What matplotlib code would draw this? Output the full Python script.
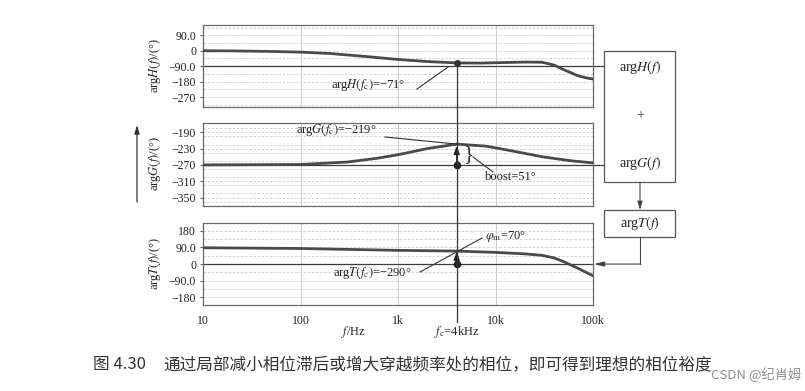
import numpy as np
import matplotlib
matplotlib.use('Agg')
import matplotlib.pyplot as plt
from matplotlib import transforms
from matplotlib.patches import Rectangle

plt.rcParams['font.family'] = ['Liberation Serif', 'DejaVu Serif']
plt.rcParams['mathtext.fontset'] = 'stix'
plt.rcParams['axes.unicode_minus'] = True

# ---------------- data ----------------
freq_H = [10, 20, 50, 100, 200, 500, 1000, 2000, 4000, 7000, 10000, 20000,
          30000, 40000, 50000, 70000, 85000, 100000]
phase_H = [0, -1, -4, -8, -16, -35, -51, -63, -71, -72, -70, -66,
           -67, -84, -110, -146, -158, -165]

freq_G = [10, 100, 300, 600, 1000, 2000, 4000, 8000, 15000, 30000, 60000, 100000]
phase_G = [-270, -269, -263, -254, -245, -230, -219, -224, -236, -250, -260, -265]

freq_T = [10, 100, 1000, 4000, 10000, 20000, 30000, 40000, 50000, 70000, 100000]
phase_T = [88, 84, 74, 70, 63, 55, 47, 33, 13, -23, -63]

x_ticks = [10, 100, 1000, 10000, 100000]
x_ticklabels = ['10', '100', '1k', '10k', '100k']

yticks_H = [90, 0, -90, -180, -270]
yticklabels_H = ['90.0', '0', '\u221290.0', '\u2212180', '\u2212270']
yticks_G = [-190, -230, -270, -310, -350]
yticklabels_G = ['\u2212190', '\u2212230', '\u2212270', '\u2212310', '\u2212350']
yticks_T = [180, 90, 0, -90, -180]
yticklabels_T = ['180', '90.0', '0', '\u221290.0', '\u2212180']

fc = 4000
H_fc = -71
G_fc = -219
T_fc = -290
boost = 51
phase_margin = 70
ref_H, ref_G, ref_T = -90, -270, 0

# ---------------- figure ----------------
W, Hpx = 805, 391
fig = plt.figure(figsize=(W / 100, Hpx / 100), dpi=100)
fig.patch.set_facecolor('white')


def rect(l, t, r, b):
    return [l / W, 1 - b / Hpx, (r - l) / W, (b - t) / Hpx]


ax1 = fig.add_axes(rect(203, 24.7, 593, 107.3))
ax2 = fig.add_axes(rect(203, 123.3, 593, 205.7))
ax3 = fig.add_axes(rect(203, 223.3, 593, 305))

curve_c = '#4a4a4a'
txt_c = '#222222'
spine_c = '#6a6a6a'
grid_c = '#cdcdcd'

setups = [
    (ax1, freq_H, phase_H, (-330, 152), yticks_H, yticklabels_H, 45),
    (ax2, freq_G, phase_G, (-370, -168), yticks_G, yticklabels_G, 20),
    (ax3, freq_T, phase_T, (-221, 220), yticks_T, yticklabels_T, 45),
]
for ax, fx, py, yl, yt, ytl, minor in setups:
    ax.set_xscale('log')
    ax.set_xlim(10, 100000)
    ax.set_ylim(*yl)
    ax.set_yticks(yt)
    ax.set_yticklabels(ytl)
    ax.set_xticks(x_ticks)
    ax.xaxis.set_minor_locator(matplotlib.ticker.NullLocator())
    ax.yaxis.set_minor_locator(matplotlib.ticker.MultipleLocator(minor))
    ax.grid(True, axis='x', which='major', color=grid_c, lw=0.7, ls='-')
    ax.grid(True, axis='y', which='both', color=grid_c, lw=0.6, ls=(0, (3, 2)))
    ax.tick_params(axis='y', which='major', length=2, direction='out', pad=3,
                   labelsize=8.5, colors=spine_c, labelcolor=txt_c)
    ax.tick_params(axis='y', which='minor', length=0)
    ax.tick_params(axis='x', length=0, labelsize=8.5, labelcolor=txt_c, pad=7)
    for s in ax.spines.values():
        s.set_color(spine_c)
        s.set_linewidth(0.9)
    ax.plot(fx, py, color=curve_c, lw=2.0, solid_capstyle='round', zorder=3)

ax1.set_xticklabels([])
ax2.set_xticklabels([])
ax3.set_xticklabels(x_ticklabels)

# reference lines (extend towards the block diagram)
for ax, ref, xend in [(ax1, ref_H, (604 - 203) / 390), (ax2, ref_G, (604 - 203) / 390),
                      (ax3, ref_T, 1.0)]:
    tr = transforms.blended_transform_factory(ax.transAxes, ax.transData)
    ax.plot([0, xend], [ref, ref], color='#3c3c3c', lw=0.9, transform=tr,
            clip_on=False, zorder=2)

# markers & arrows inside panels
ax1.plot([fc], [H_fc], 'o', color='#333', ms=4, zorder=5, clip_on=False)
ax2.plot([fc], [ref_G], 'o', color='#222', ms=4.5, zorder=5)
ax2.annotate('', xy=(fc, G_fc - 4), xytext=(fc, ref_G),
             arrowprops=dict(arrowstyle='-|>,head_length=0.5,head_width=0.18',
                             color='#222', lw=0.9, shrinkA=0, shrinkB=0), zorder=5)
ax3.plot([fc], [ref_T], 'o', color='#222', ms=4.5, zorder=5)
ax3.annotate('', xy=(fc, phase_margin - 3), xytext=(fc, ref_T),
             arrowprops=dict(arrowstyle='-|>,head_length=0.5,head_width=0.18',
                             color='#222', lw=0.9, shrinkA=0, shrinkB=0), zorder=5)

# ---------------- overlay in pixel coordinates ----------------
ov = fig.add_axes([0, 0, 1, 1], zorder=10)
ov.set_xlim(0, W)
ov.set_ylim(Hpx, 0)
ov.axis('off')
ov.patch.set_alpha(0)


def px(ax, x, y):
    dx, dy = ax.transData.transform((x, y))
    return dx, Hpx - dy


xf, yH = px(ax1, fc, H_fc)
ov.plot([xf, xf], [yH, 322], color='#333', lw=0.9)

lc = '#333'
fs = 9
# argH annotation
ov.text(368, 85, 'arg$\\mathit{H}(\\mathit{f}_{\\mathrm{c}})$=\u221271\u00b0',
        ha='center', va='center', fontsize=fs, color=txt_c)
ov.plot([417, 448], [89, 67], color=lc, lw=0.8)
# argG annotation
ov.text(336, 130, 'arg$\\mathit{G}(\\mathit{f}_{\\mathrm{c}})$=\u2212219\u00b0',
        ha='center', va='center', fontsize=fs, color=txt_c)
_, yG = px(ax2, fc, G_fc)
ov.plot([385, xf], [137, yG], color=lc, lw=0.8)
# boost brace
_, yref2 = px(ax2, fc, ref_G)
ov.text(468, (yG + yref2) / 2 + 0.5, '}', ha='center', va='center', fontsize=15,
        color='#333')
ov.plot([473, 493], [157, 172], color=lc, lw=0.8)
ov.text(485, 177, 'boost=51\u00b0', ha='left', va='center', fontsize=fs, color=txt_c)
# phase margin / argT annotation
ov.text(485, 236, '$\\varphi_{\\mathrm{m}}$=70\u00b0', ha='left', va='center',
        fontsize=fs, color=txt_c)
ov.plot([482, 420], [238, 272], color=lc, lw=0.8)
ov.text(372, 273, 'arg$\\mathit{T}(\\mathit{f}_{\\mathrm{c}})$=\u2212290\u00b0',
        ha='center', va='center', fontsize=fs, color=txt_c)

# axis titles
ov.text(155, 66, 'arg$\\mathit{H}(\\mathit{f})$/(\u00b0)', rotation=90, ha='center',
        va='center', fontsize=9, color=txt_c)
ov.text(155, 164, 'arg$\\mathit{G}(\\mathit{f})$/(\u00b0)', rotation=90, ha='center',
        va='center', fontsize=9, color=txt_c)
ov.text(155, 264, 'arg$\\mathit{T}(\\mathit{f})$/(\u00b0)', rotation=90, ha='center',
        va='center', fontsize=9, color=txt_c)
ov.annotate('', xy=(137, 125), xytext=(137, 202),
            arrowprops=dict(arrowstyle='-|>,head_length=0.5,head_width=0.15',
                            color='#333', lw=0.9, shrinkA=0, shrinkB=0))

ov.text(354, 332, '$\\mathit{f}$/Hz', ha='center', va='center', fontsize=9, color=txt_c)
ov.text(xf, 332, '$\\mathit{f}_{\\mathrm{c}}$=4kHz', ha='center', va='center',
        fontsize=9, color=txt_c)

# block diagram on the right
box_c = '#555'
ov.add_patch(Rectangle((604, 51), 71, 131, fill=False, ec=box_c, lw=0.9))
ov.add_patch(Rectangle((604, 210), 71, 27, fill=False, ec=box_c, lw=0.9))
ov.text(640, 67, 'arg$\\mathit{H}(\\mathit{f})$', ha='center', va='center', fontsize=10,
        color=txt_c)
ov.text(640, 116, '+', ha='center', va='center', fontsize=10, color='#444')
ov.text(640, 163, 'arg$\\mathit{G}(\\mathit{f})$', ha='center', va='center', fontsize=10,
        color=txt_c)
ov.text(640, 223.5, 'arg$\\mathit{T}(\\mathit{f})$', ha='center', va='center', fontsize=10,
        color=txt_c)
ov.annotate('', xy=(640, 210), xytext=(640, 182),
            arrowprops=dict(arrowstyle='-|>,head_length=0.5,head_width=0.15',
                            color='#444', lw=0.8, shrinkA=0, shrinkB=0))
_, yT0 = px(ax3, 10, ref_T)
ov.plot([640, 640], [237, yT0], color='#444', lw=0.8)
ov.annotate('', xy=(594, yT0), xytext=(640, yT0),
            arrowprops=dict(arrowstyle='-|>,head_length=0.6,head_width=0.15',
                            color='#444', lw=0.8, shrinkA=0, shrinkB=0))

# caption
cjk = ['Noto Sans CJK SC', 'DejaVu Sans']
ov.text(93, 365, '图 4.30', ha='left', va='center', fontsize=12, family=cjk,
        color='#333')
ov.text(163, 365, '通过局部减小相位滞后或增大穿越频率处的相位，即可得到理想的相位裕度',
        ha='left', va='center', fontsize=12, family=cjk, color='#333')
ov.text(801, 375, 'CSDN @纪肖姆', ha='right', va='center', fontsize=9.5,
        family=cjk, color='#8f8f8f')

fig.savefig('out.png', dpi=100)
